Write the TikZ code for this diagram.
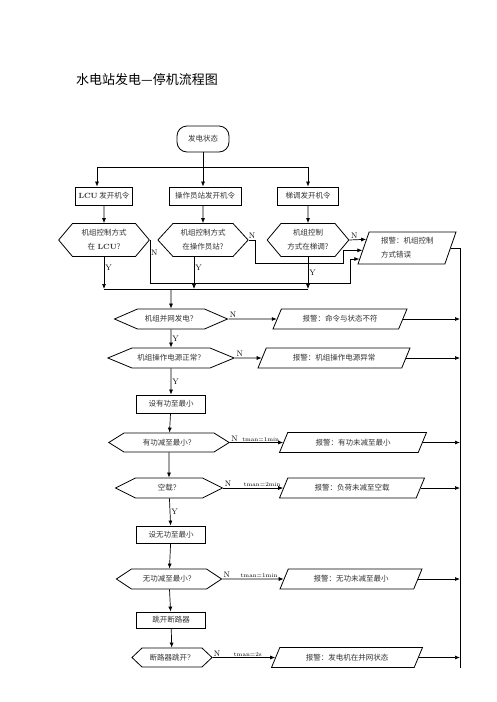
\documentclass[tikz,border=0pt]{standalone}
\usepackage{fontspec}
\newfontfamily\cjk{Noto Sans CJK SC}
\usetikzlibrary{shapes.geometric,shapes.symbols,arrows.meta}
\tikzset{
  >={Latex[length=5pt,width=4pt]},
  every node/.style={font=\cjk\fontsize{7.5}{14}\selectfont, text=black!80},
  start/.style={draw, rounded corners=10pt, minimum width=52, minimum height=26, line width=0.8pt},
  cmd/.style={draw, minimum height=18, inner sep=0pt, line width=0.8pt},
  cond/.style={draw, signal, signal to=east and west, inner xsep=0pt, inner ysep=2pt, align=center, line width=0.8pt},
  alarm/.style={draw, trapezium, trapezium left angle=40, trapezium right angle=140, trapezium stretches body,
    minimum height=20, inner sep=0pt, line width=0.8pt},
  lab/.style={font=\normalfont\fontsize{8}{9}\selectfont, text=black, inner sep=1pt},
  tm/.style={font=\normalfont\fontsize{5.8}{7}\selectfont, text=black, inner sep=1pt}
}
\begin{document}
\begin{tikzpicture}[x=1pt, y=-1pt, line width=0.7pt]
\fill[white] (0,0) rectangle (496,702);
\useasboundingbox (0,0) rectangle (496,702);

\node[font=\cjk\fontsize{13}{15}\selectfont, text=black] (title) at (147,80) {水电站发电—停机流程图};

% top: three start commands
\node[start] (S) at (203,139) {发电状态};
\node[cmd, minimum width=57] (B1) at (104,196) {{\normalfont\bfseries LCU} 发开机令};
\node[cmd, minimum width=72] (B2) at (205,196) {操作员站发开机令};
\node[cmd, minimum width=61] (B3) at (308,196) {梯调发开机令};

\node[cond, text width=63, minimum height=33, signal pointer angle=100] (H1) at (104,240) {机组控制方式\\在 {\normalfont\bfseries LCU}?};
\node[cond, text width=60, minimum height=33, signal pointer angle=95] (H2) at (203,240) {机组控制方式\\在操作员站?};
\node[cond, text width=54, minimum height=33, signal pointer angle=100] (H3) at (308,240) {机组控制\\方式在梯调?};

\node[alarm, trapezium left angle=62, trapezium right angle=118, minimum height=32, minimum width=98,
  text width=52, align=left] (P0) at (407,248) {报警：机组控制\\方式错误};

% main column
\node[cond, text width=67, minimum height=20, signal pointer angle=47] (H4) at (171,319) {机组并网发电？};
\node[cond, text width=78, minimum height=20, signal pointer angle=45] (H5) at (171,358) {机组操作电源正常？};
\node[cmd, minimum width=69] (B4) at (171,404) {设有功至最小};
\node[cond, text width=90, minimum height=19, signal pointer angle=64] (H6) at (169,442.5) {有功减至最小？};
\node[cond, text width=67, minimum height=20, signal pointer angle=53] (H7) at (169,488) {空载？};
\node[cmd, minimum width=69, minimum height=17] (B5) at (171,534.5) {设无功至最小};
\node[cond, text width=75, minimum height=20, signal pointer angle=67] (H8) at (169,579) {无功减至最小？};
\node[cmd, minimum width=69, minimum height=16] (B6) at (171,620) {跳开断路器};
\node[cond, text width=60, minimum height=19, signal pointer angle=87] (H9) at (172,657.5) {断路器跳开？};

% alarms
\node[alarm, minimum width=134] (P1) at (340,319) {报警：命令与状态不符};
\node[alarm, minimum width=152] (P2) at (334,358) {报警：机组操作电源异常};
\node[alarm, minimum width=147] (P3) at (353,442.5) {报警：有功未减至最小};
\node[alarm, minimum width=145] (P4) at (352,488) {报警：负荷未减至空载};
\node[alarm, minimum width=142] (P5) at (351,579) {报警：无功未减至最小};
\node[alarm, minimum width=151] (P6) at (347,657.5) {报警：发电机在并网状态};

\coordinate (t0) at (203,167);
\coordinate (join) at (171,289);
\coordinate (k1) at (350,283);
\coordinate (k2) at (343,263);
\coordinate (rend) at (460,668);

\draw[->] (S) -- (t0) -| ([xshift=-7]B1.north);
\draw[->] (t0) -- (t0 |- B2.north);
\draw[->] (t0) -| (B3);
\draw[->] (B1) -- (H1); \draw[->] (B2.south -| H2) -- (H2); \draw[->] (B3) -- (H3);

\draw[->] (H1) -- (H1 |- join) node[lab, pos=0.35, right] {Y};
\draw[->] ([xshift=-9]H2.south) -- ([xshift=-9]H2.south |- join) node[lab, pos=0.35, right] {Y};
\draw[->] (H3) -- (H3 |- join) node[lab, pos=0.5, right] {Y};
\draw (H1 |- join) -- (H3 |- join);
\draw[->] (join) -- (H4);

\draw[->] (H3.east) -- node[lab, pos=0.3, above] {N} (P0.168);
\draw[->] (H2.east) -- node[lab, above] {N} ++(7,0) |- (k2) |- (P0.183);
\draw[->] (H1.east) |- node[lab, pos=0.15, right] {N} (k1) |- (P0.193);

\draw[->] (H4) -- node[lab, right] {Y} (H5);
\draw[->] (H5) -- node[lab, right] {Y} (B4);
\draw[->] (B4) -- (H6); \draw[->] (H6) -- (H7);
\draw[->] (H7) -- node[lab, right] {Y} (B5);
\draw[->] (B5) -- (H8); \draw[->] (H8) -- (B6); \draw[->] (B6) -- (H9);

\draw[->] (H4.east) -- node[lab, pos=0, above right] {N} (P1.west);
\draw[->] (H5.east) -- node[lab, pos=0, above right] {N} (P2.west);
\draw[->] (H6.east) -- node[lab, pos=0, above right] {N} node[tm, pos=0, above right, xshift=11] {tman=1min} (P3.west);
\draw[->] (H7.east) -- node[lab, pos=0, above right] {N} node[tm, pos=0, above right, xshift=19] {tman=2min} (P4.west);
\draw[->] (H8.east) -- node[lab, pos=0, above right] {N} node[tm, pos=0, above right, xshift=17] {tman=1min} (P5.west);
\draw[->] (H9.east) -- node[lab, pos=0, above right] {N} node[tm, pos=0, above right, xshift=20] {tman=2s} (P6.west);

% right collector
\draw (P0.east) -| (rend);
\foreach \p in {P1,P2,P3,P4,P5,P6}
  \draw[->] (\p.east) -- (\p.east -| rend);
\end{tikzpicture}
\end{document}
